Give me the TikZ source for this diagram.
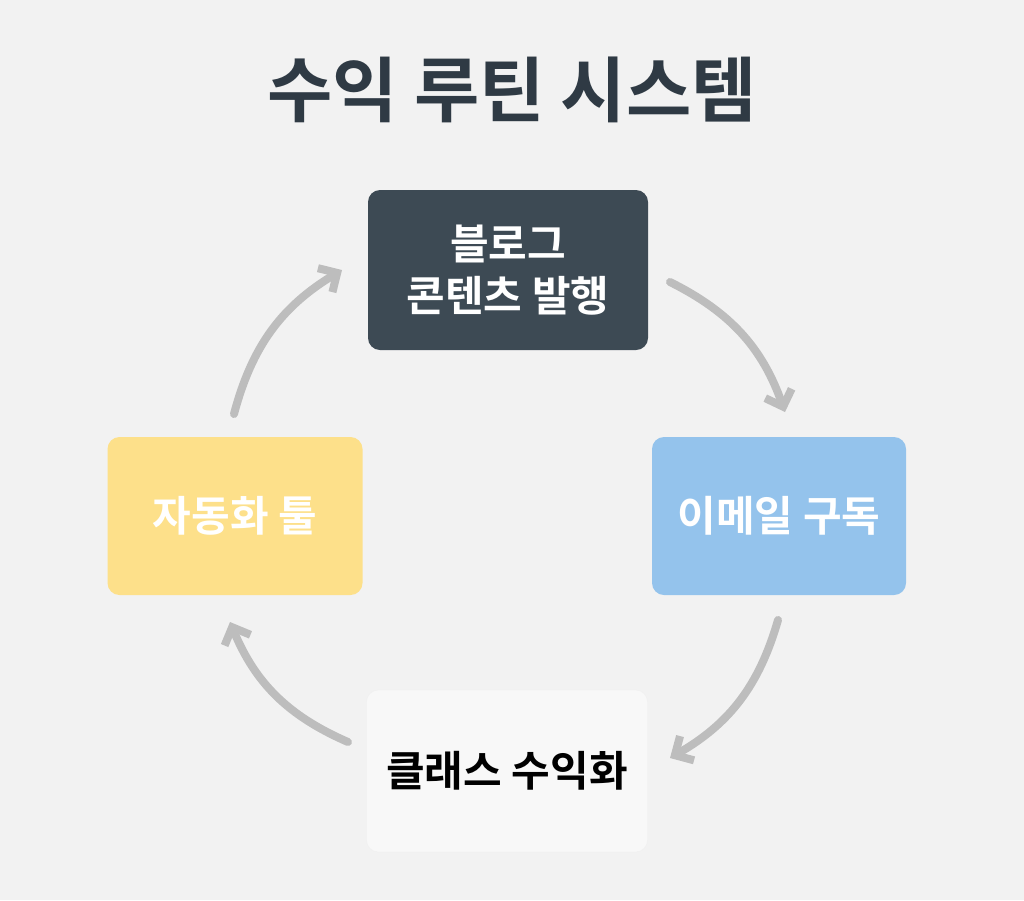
\documentclass[tikz,border=0pt]{standalone}
\usepackage{fontspec}
\newfontfamily\kr{Noto Sans CJK KR Bold}
\usetikzlibrary{arrows.meta}
\definecolor{bg}{HTML}{F2F2F2}
\definecolor{titlec}{HTML}{2F3A44}
\definecolor{darkbox}{HTML}{3D4A54}
\definecolor{bluebox}{HTML}{94C3EC}
\definecolor{whitebox}{HTML}{F8F8F8}
\definecolor{yellowbox}{HTML}{FDE08A}
\definecolor{arr}{HTML}{BDBDBD}
\begin{document}
\begin{tikzpicture}[x=1pt,y=-1pt,
  box/.style={rounded corners=12pt,minimum width=#1,align=center,font=\kr\fontsize{42}{52}\selectfont,inner sep=0pt},
  cyc/.style={draw=arr,line width=8pt,-{Straight Barb[length=14pt,width=28pt,line width=8pt]},line cap=round}]
\fill[bg] (0,0) rectangle (1024,900);
\node[font=\kr\fontsize{71}{75}\selectfont,text=titlec] (title) at (512,90) {수익 루틴 시스템};
\node[box=280pt,minimum height=160pt,fill=darkbox,text=white] (top) at (508,270) {블로그\\콘텐츠 발행};
\node[box=254pt,minimum height=158pt,fill=bluebox,text=white] (right) at (779,516) {이메일 구독};
\node[box=281pt,minimum height=162pt,fill=whitebox,text=black,draw=black!6] (bottom) at (507,771) {클래스 수익화};
\node[box=255pt,minimum height=158pt,fill=yellowbox,text=white] (left) at (235,516) {자동화 툴};
\coordinate (a1) at (670,282); \coordinate (a2) at (785,412);
\coordinate (b1) at (778,620); \coordinate (b2) at (670,758);
\coordinate (c1) at (348,742); \coordinate (c2) at (230,622);
\coordinate (d1) at (234,414); \coordinate (d2) at (342,270);
\draw[cyc] (a1) to[bend left=22] (a2);
\draw[cyc] (b1) to[bend left=22] (b2);
\draw[cyc] (c1) to[bend left=22] (c2);
\draw[cyc] (d1) to[bend left=22] (d2);
\end{tikzpicture}
\end{document}
